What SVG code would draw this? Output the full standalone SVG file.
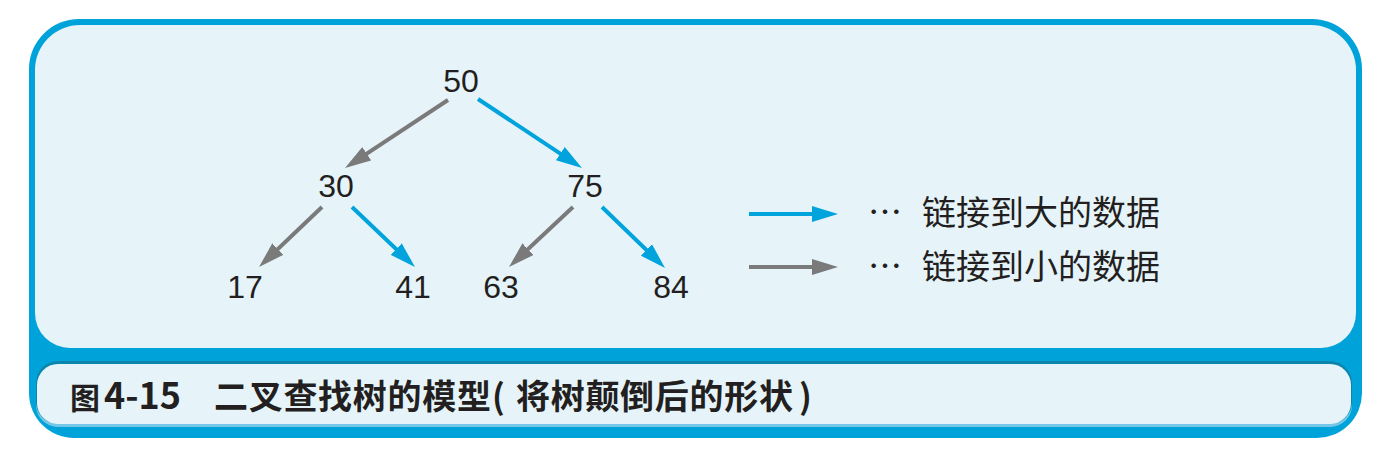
<svg xmlns="http://www.w3.org/2000/svg" width="1380" height="458" viewBox="0 0 1380 458">
<style>
.num{font-family:"Liberation Sans",Arial,sans-serif;font-size:32px;fill:#231f20;text-anchor:middle}
.leg{font-family:"Noto Sans CJK SC",sans-serif;font-size:34px;fill:#231f20}
.cap{font-family:"Noto Sans CJK SC",sans-serif;font-size:34px;font-weight:700;fill:#231f20}
.lb{stroke:#00a3dc;stroke-width:4;fill:none}
.lg{stroke:#7a7a7a;stroke-width:4;fill:none}
</style>
<defs>
<marker id="ab" markerUnits="userSpaceOnUse" markerWidth="26" markerHeight="16" refX="18" refY="8" orient="auto"><path d="M0,0 L26,8 L0,16 Z" fill="#00a3dc"/></marker>
<marker id="ag" markerUnits="userSpaceOnUse" markerWidth="26" markerHeight="16" refX="18" refY="8" orient="auto"><path d="M0,0 L26,8 L0,16 Z" fill="#7a7a7a"/></marker>
</defs>
<g id="frame">
<path d="M79,19 H1312 A50,50 0 0 1 1362,69 V393 A45,45 0 0 1 1317,438 H74 A45,45 0 0 1 29,393 V69 A50,50 0 0 1 79,19 Z" fill="#00a3d9"/>
<path d="M80,25 H1311 A45,45 0 0 1 1356,70 V313 A35,35 0 0 1 1321,348 H70 A35,35 0 0 1 35,313 V70 A45,45 0 0 1 80,25 Z" fill="#e6f4fa"/>
<rect x="36" y="363" width="1316" height="64" rx="22" fill="#74c7e6"/>
<rect x="36" y="361" width="1316" height="63" rx="22" fill="#0a86ad"/>
<rect x="37" y="364" width="1314" height="60" rx="21" fill="#e6f4fa"/>
</g>
<g id="connectors">
<path class="lg" d="M448,100 L351.7,163.6" marker-end="url(#ag)"/>
<path class="lb" d="M478,99 L575.3,163.6" marker-end="url(#ab)"/>
<path class="lg" d="M322,207 L264.8,261.5" marker-end="url(#ag)"/>
<path class="lb" d="M352,207 L409.2,261.5" marker-end="url(#ab)"/>
<path class="lg" d="M573,207 L514.8,261.5" marker-end="url(#ag)"/>
<path class="lb" d="M602,207 L659.3,262.4" marker-end="url(#ab)"/>
<path class="lb" d="M749,214 L830,214" marker-end="url(#ab)"/>
<path class="lg" d="M749,267 L830,267" marker-end="url(#ag)"/>
</g>
<g id="n50"><text class="num" x="461" y="92">50</text></g>
<g id="n30"><text class="num" x="336" y="197">30</text></g>
<g id="n75"><text class="num" x="585" y="197">75</text></g>
<g id="n17"><text class="num" x="245" y="298">17</text></g>
<g id="n41"><text class="num" x="413" y="298">41</text></g>
<g id="n63"><text class="num" x="501" y="298">63</text></g>
<g id="n84"><text class="num" x="671" y="298">84</text></g>
<g id="legend">
<text class="leg" y="225"><tspan x="868">⋯</tspan><tspan x="922">链接到大的数据</tspan></text>
<text class="leg" y="279"><tspan x="868">⋯</tspan><tspan x="922">链接到小的数据</tspan></text>
</g>
<g id="caption">
<text class="cap" y="409"><tspan x="70" font-size="30">图</tspan><tspan x="104" font-size="36">4-15</tspan><tspan x="214" letter-spacing="0.7">二叉查找树的模型</tspan><tspan x="492">(</tspan><tspan x="516" letter-spacing="0.7">将树颠倒后的形状</tspan><tspan x="799">)</tspan></text>
</g>
</svg>
